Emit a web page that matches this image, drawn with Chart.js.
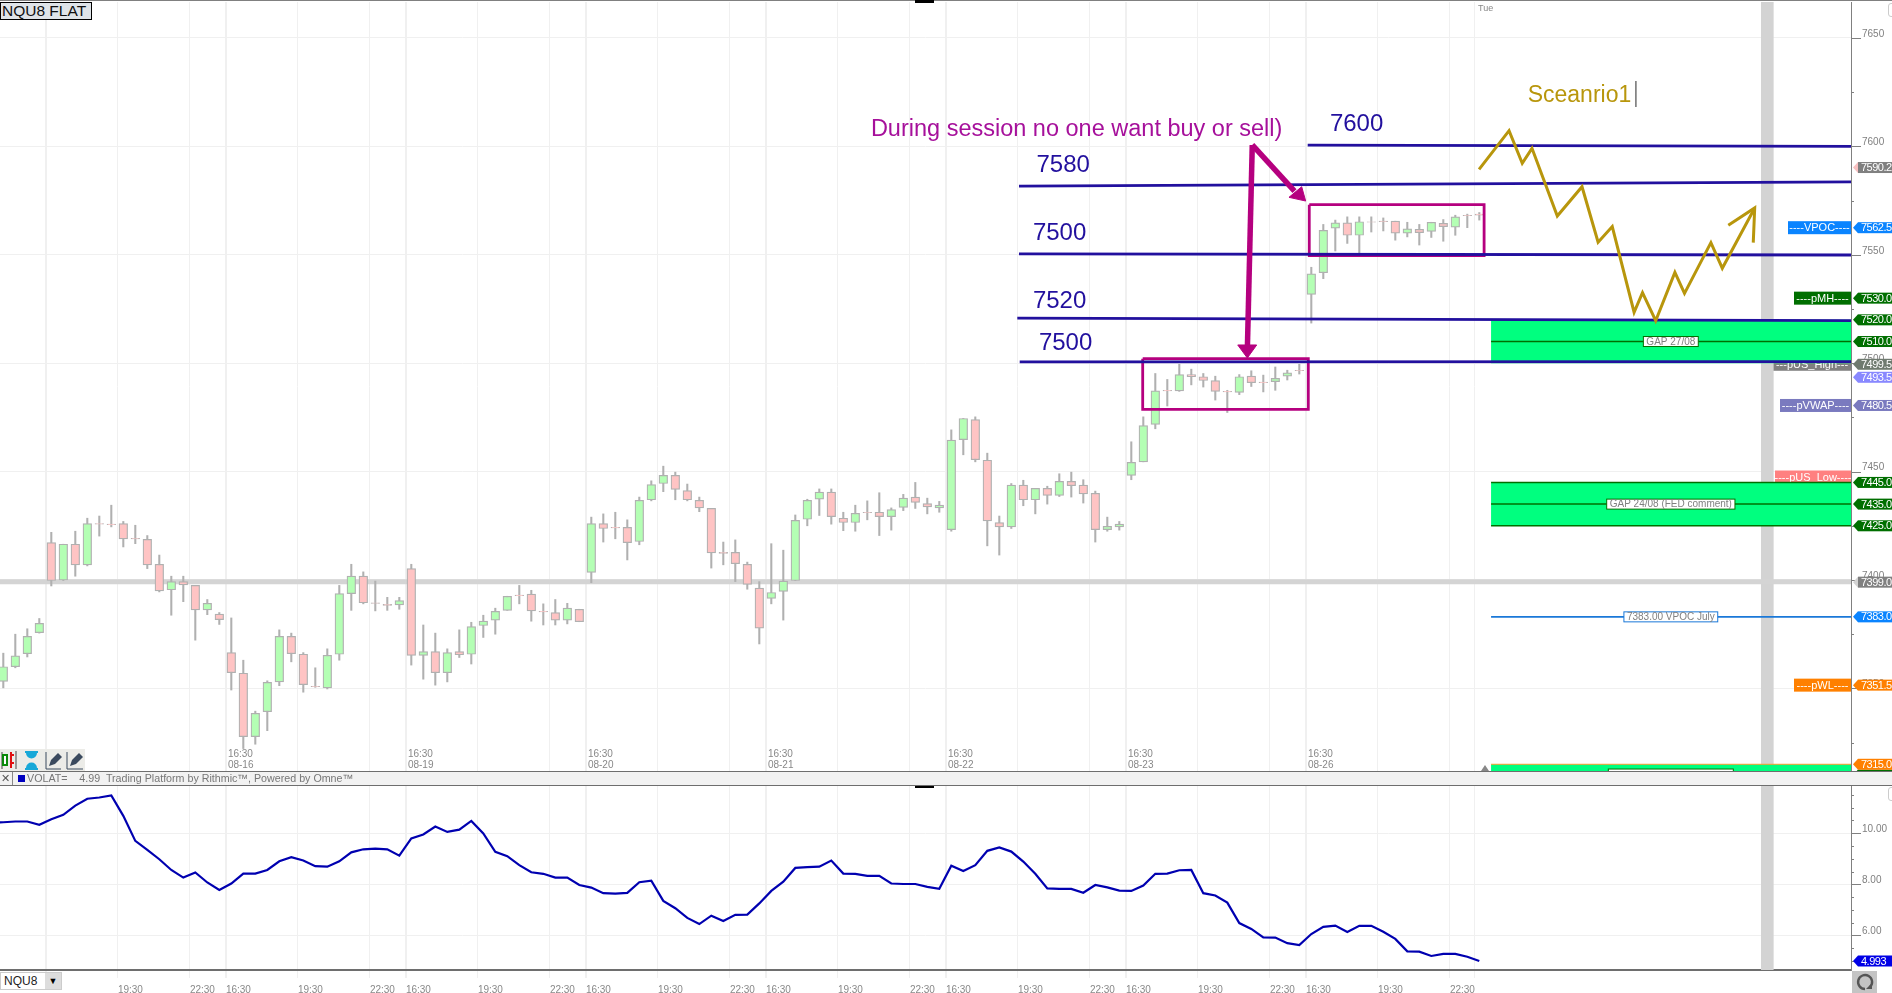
<!DOCTYPE html>
<html lang="en">
<head>
	<meta charset="UTF-8">
	<title>NQU8 FLAT</title>
	<script src="https://cdn.jsdelivr.net/npm/chart.js"></script>
	<style>
		html, body { margin: 0; padding: 0; background: white; overflow: hidden; width: 1892px; height: 993px; font-family: "Liberation Sans", sans-serif; }
		canvas { position: absolute; left: 0; display: block; }
		#priceChart { top: 0; }
		#volatChart { top: 785px; }
		.abs { position: absolute; }
		#topLine { left: 0; top: 0; width: 1892px; height: 1px; background: #808080; }
		#symbolBox { left: 0; top: 2px; width: 89px; height: 16px; border: 1px solid #000; background: #dfe4e8; font-size: 15.5px; line-height: 16px; padding-left: 1px; box-sizing: content-box; color: #111; white-space: nowrap; }
		#tueLabel { left: 1478px; top: 3px; font-size: 9px; color: #888; }
		#legendBar { left: 0; top: 771px; width: 1892px; height: 13px; background: #f2f2f2; border-top: 1px solid #6e6e6e; border-bottom: 1px solid #6e6e6e; font-size: 10.7px; line-height: 13px; color: #777; white-space: pre; }
		#legendBar .x { position: absolute; left: 1px; top: 0; color: #555; }
		#legendBar .div { position: absolute; left: 12px; top: 0; width: 1px; height: 13px; background: #888; }
		#legendBar .sq { position: absolute; left: 18px; top: 3px; width: 7px; height: 7px; background: #0000c0; }
		#legendBar .txt { position: absolute; left: 27px; top: 0; }
		#toolbar { left: 0; top: 749px; width: 85px; height: 22px; background: #ecece8; }
		#dropdown { left: 0; top: 972px; width: 62px; height: 18px; background: #fff; border: 1px solid #ccc; box-sizing: border-box; font-size: 12px; line-height: 16px; color: #222; padding-left: 3px; }
		#dropdown .btn { position: absolute; left: 44px; top: 0; width: 16px; height: 16px; background: #ddd; font-size: 9px; line-height: 16px; text-align: center; color: #000; padding: 0; }
		#refresh { left: 1852px; top: 971px; width: 25px; height: 22px; background: #c4c4c4; }
		.mark { width: 19px; height: 3px; background: #000; left: 915px; }
		.corner { width: 8px; height: 12px; border: 1px solid #ccc; border-radius: 3px; left: 1888px; background: #fff; }
		#triangle { left: 1481px; top: 765px; width: 0; height: 0; border-left: 4px solid transparent; border-right: 4px solid transparent; border-bottom: 6px solid #888; }
	</style>
</head>
<body>
	<canvas id="priceChart" width="1892" height="772"></canvas>
	<canvas id="volatChart" width="1892" height="208"></canvas>

	<div class="abs" id="topLine"></div>
	<div class="abs" id="symbolBox">NQU8 FLAT</div>
	<div class="abs" id="tueLabel">Tue</div>
	<div class="abs mark" style="top:0"></div>
	<div class="abs mark" style="top:785px"></div>
	<div class="abs corner" style="top:3px"></div>
	<div class="abs corner" style="top:787px"></div>
	<div class="abs" id="triangle"></div>
	<div class="abs" id="toolbar">
		<svg width="85" height="22" viewBox="0 0 85 22">
			<path d="M2 3v17M16 2v18" stroke="#444" stroke-width="1" fill="none"/>
			<rect x="3" y="6" width="4" height="10" fill="#fff" stroke="#0a8a0a" stroke-width="2"/>
			<path d="M11 3v16M14 6h-3M14 14h-3" stroke="#e01010" stroke-width="2" fill="none"/>
			<path d="M25 3h13M25 20h13M27 4c0 6 9 6 9 0zM27 19c0-6 9-6 9 0z" stroke="#18a8d8" stroke-width="2" fill="#18a8d8"/>
			<path d="M46 20v-17M46 20h15" stroke="#3b4a5e" stroke-width="1" fill="none"/>
			<path d="M49 17l2-6 7-7 4 4-7 7z" fill="#3b4a5e"/>
			<path d="M67 20v-17M67 20h16" stroke="#3b4a5e" stroke-width="1" fill="none"/>
			<path d="M70 17l2-6 7-7 4 4-7 7z" fill="#3b4a5e"/>
		</svg>
	</div>
	<div class="abs" id="legendBar"><span class="x">✕</span><span class="div"></span><span class="sq"></span><span class="txt">VOLAT=    4.99  Trading Platform by Rithmic™, Powered by Omne™</span></div>
	<div class="abs" id="dropdown">NQU8<span class="btn">▼</span></div>
	<div class="abs" id="refresh">
		<svg width="25" height="22" viewBox="0 0 25 22">
			<path d="M18 16a7 7 0 1 0-5 2" stroke="#555" stroke-width="2.4" fill="none"/>
			<path d="M20 12v6h-6z" fill="#555"/>
		</svg>
	</div>

	<script>
		// 30 minute bars, one session = 15 bars
		const opens = [
			7353.25,7360,7366,7375.75,7417.25,7400,7416.5,7407,7426,7425.75,
			7426,7419.25,7418.75,7407.25,7395.5,7399.25,7397.5,7386.25,7384.25,7366.5,
			7357,7327.75,7339.25,7353,7374,7365.75,7351,7350.25,7365.75,7393.75,
			7401.75,7389.5,7388.75,7388.5,7405.25,7365.25,7367,7357.25,7367,7365.75,
			7379,7381.5,7386,7393,7393.5,7385.5,7385,7381.5,7386.5,7403.5,
			7426,7424.25,7424.25,7417.75,7437,7444.5,7448.25,7441.25,7436.75,7433,
			7412.75,7412.75,7407.25,7396.25,7391.5,7394.75,7399.75,7428,7437.25,7440.5,
			7428.5,7426.5,7431.25,7431.25,7429.25,7433.5,7438.25,7435.25,7433.25,7423.25,
			7464.75,7474,7455.25,7426.5,7424.5,7443.75,7437,7442.25,7439,7445.5,
			7443.75,7440,7423.25,7424.5,7448.25,7454.5,7471.75,7487.5,7487.25,7494.75,
			7493.75,7492,7487,7486.5,7494,7491.25,7491.5,7494,7496.75,7531.75,
			7541.75,7562.25,7564.75,7559,7565.25,7565.5,7565.5,7560,7561.75,7560.75,
			7564.5,7562.75,7568.25,7568.75
		];
		const closes = [
			7360,7365,7374,7380,7399.75,7416.5,7407,7426,7425.75,7425.5,
			7419,7419,7407,7395,7399.25,7397.75,7386.25,7389.25,7381.75,7357.25,
			7327.75,7338.5,7352.75,7374,7366,7351.75,7350.75,7365.25,7393.75,7401.75,
			7389.5,7389.25,7388.25,7390.5,7365.25,7367,7357.25,7366.5,7365.5,7378.5,
			7381,7385.5,7392.5,7392.75,7385.75,7385.25,7381.5,7387,7380.75,7426,
			7423.75,7424,7417.25,7436.75,7444,7448.25,7441.75,7437,7433.25,7412.5,
			7412.25,7407.5,7398,7377.75,7394.25,7399.5,7427.5,7436.75,7440.5,7429.25,
			7426.5,7430.75,7431,7429.25,7432.5,7437.75,7435.75,7433.75,7434.5,7464.5,
			7474.5,7455.5,7427.25,7424.5,7443.75,7437,7442.25,7439,7445.5,7443.5,
			7439.75,7423.25,7424.75,7425.75,7454.25,7471.25,7487.25,7487.25,7494.75,7493.75,
			7492,7487,7486.75,7493.75,7491,7491,7493,7495.5,7496.5,7541.25,
			7561.25,7564.75,7559,7565.25,7565,7565.25,7560,7562,7560.25,7565,
			7563,7567.5,7568,7568.25
		];
		const highs = [
			7366.25,7375,7377.5,7382.25,7422,7416.5,7422.5,7428.5,7429.5,7434.5,
			7427,7425.25,7420.5,7411.5,7401.75,7401.75,7397.5,7391,7385,7382.5,
			7363,7339.5,7353.5,7377,7375.5,7366.5,7359.5,7368.25,7397.5,7407.25,
			7403.75,7399.5,7392,7392,7407.25,7379.25,7375.5,7368.25,7377,7380.5,
			7383.75,7387,7392.5,7397.5,7395.25,7389,7391,7389.25,7386.5,7429,
			7430.5,7431.25,7427.75,7438.25,7445.75,7452.5,7449.75,7444.25,7438.25,7433,
			7417.5,7418.5,7408.25,7399.25,7416.75,7413.75,7430,7437.25,7442,7442,
			7431.25,7434.5,7436.5,7440.25,7433.25,7439.5,7445,7437.75,7436.25,7469.25,
			7474.5,7475.25,7458.5,7429.5,7444.5,7446,7442.25,7443.25,7449,7449.75,
			7446.25,7441,7429,7427,7463.75,7475.25,7495.25,7492.5,7499.5,7497.25,
			7495.25,7494,7487.5,7494.75,7496.5,7494.5,7498.25,7496.75,7499.5,7544.25,
			7564,7566,7567.5,7567.5,7567.5,7567,7565.5,7565,7564,7565,
			7566.25,7568.25,7568.75,7569.5
		];
		const lows = [
			7350.25,7359.5,7364.5,7375.5,7397.25,7399.75,7401.75,7406.5,7420.25,7424.5,
			7415.25,7416.75,7405.25,7394.5,7383.75,7390,7372.25,7384,7379.5,7349.25,
			7322.25,7324.25,7330.5,7351.25,7362.25,7348.25,7350.5,7349.75,7363,7386,
			7389,7385.75,7386,7386.5,7360.75,7354.25,7351.5,7353,7364.25,7361.25,
			7373.5,7375,7386,7389,7381,7379.25,7379.25,7379.75,7380.75,7398.75,
			7417.5,7419,7409.25,7416.25,7436.5,7440.75,7437,7436.5,7431.5,7405.5,
			7407,7399.25,7395.75,7370.5,7389,7381.5,7399.75,7425,7429.75,7425.75,
			7422.75,7422.5,7427.75,7420.5,7423,7432,7433,7430.5,7431.25,7422.5,
			7457.75,7454.5,7415.75,7411.5,7423.75,7434.25,7430.5,7435,7438.5,7438.25,
			7435.5,7417.5,7422.5,7423,7446.25,7454.5,7469.75,7480.25,7487,7490,
			7489,7483,7477.25,7485.5,7489.25,7486.75,7487.5,7492.25,7495,7518.5,
			7539,7551.75,7555.25,7550.75,7560.5,7561,7556.75,7558.25,7554.5,7558,
			7556.25,7559,7562.5,7566
		];
		const volatBefore = 10.42; // the bar just left of the window
		const volat = [
			10.43,10.46,10.46,10.33,10.55,10.72,11.08,11.35,11.40,11.48,
			10.68,9.70,9.35,8.98,8.56,8.26,8.46,8.07,7.78,8.03,
			8.42,8.42,8.56,8.90,9.06,8.93,8.71,8.69,8.90,9.25,
			9.37,9.40,9.37,9.12,9.80,9.95,10.26,10.05,10.14,10.48,
			9.99,9.27,9.10,8.75,8.47,8.41,8.26,8.26,7.97,7.87,
			7.65,7.63,7.66,8.08,8.14,7.35,7.06,6.68,6.44,6.77,
			6.56,6.80,6.81,7.25,7.74,8.10,8.64,8.67,8.69,8.93,
			8.42,8.41,8.33,8.33,8.03,8.01,8.01,7.90,7.82,8.73,
			8.52,8.75,9.31,9.44,9.28,8.89,8.41,7.84,7.82,7.82,
			7.67,7.97,7.88,7.75,7.74,7.95,8.41,8.42,8.55,8.56,
			7.65,7.56,7.28,6.48,6.25,5.92,5.91,5.69,5.62,6.05,
			6.33,6.38,6.13,6.37,6.37,6.14,5.86,5.37,5.36,5.19,
			5.27,5.27,5.16,4.99
		];

		// time axis (positions are bar numbers)
		const tickBars = [9.55,15.55,18.55,24.55,30.55,33.55,39.55,45.55,48.55,54.55,60.55,63.55,69.55,75.55,78.55,84.55,90.55,93.55,99.55,105.55,108.55,114.55,120.55];
		const tickTimes = ['19:30','22:30','16:30','19:30','22:30','16:30','19:30','22:30','16:30','19:30','22:30','16:30','19:30','22:30','16:30','19:30','22:30','16:30','19:30','22:30','16:30','19:30','22:30'];
		const sessionBars = [18.55,33.55,48.55,63.55,78.55,93.55,108.55];
		const sessionDates = ['08-16','08-19','08-20','08-21','08-22','08-23','08-26'];
		const gridOnlyBars = [3.55,122.6];
		const emptyBar = 147;

		const priceTicks = [7325,7350,7375,7400,7425,7450,7475,7500,7525,7550,7575,7600,7625,7650];
		const volatTicks = [5,5.5,6,6.5,7,7.5,8,8.5,9,9.5,10,10.5,11,11.5];

		// hand drawn levels: [bar, price]
		const level7600 = [[108.7,7600.6],[154,7600]];
		const level7580 = [[84.64,7581.7],[154,7583.6]];
		const level7550 = [[84.64,7550.4],[154,7549.9]];
		const level7520 = [[84.5,7520.8],[154,7519.6]];
		const level7500 = [[84.7,7500.6],[154,7500.7]];
		const boxFriday = [[94.95,7502.1],[108.75,7502.1],[108.75,7478.7],[94.95,7478.7],[94.95,7502.1]];
		const boxMonday = [[108.83,7573.1],[123.4,7573.1],[123.4,7549.6],[108.83,7549.6],[108.83,7573.1]];
		const arrowDown = [[104.08,7600.65],[103.67,7506.1]];
		const arrowDownHead = [[102.87,7508.4],[103.67,7502.4],[104.45,7508.4],[102.87,7508.4]];
		const arrowSide = [[104.08,7600.65],[107.6,7579.4]];
		const arrowSideHead = [[107.14,7576.5],[108.53,7574.8],[108.2,7581.4],[107.14,7576.5]];
		const scenarioPath = [[122.98,7589.4],[125.48,7607.25],[126.58,7592.2],[127.39,7599.1],[129.5,7567.9],[131.56,7581.4],[132.9,7555.8],[134.08,7563],[135.9,7523.5],[136.6,7532.5],[137.7,7519.6],[139.3,7541.9],[140.1,7532.2],[142.3,7555.6],[143.25,7543.8],[145.95,7571.6]];
		const scenarioHead = [[143.75,7563.6],[145.95,7571.6],[145.83,7555.6]];
		const caretLine = [[136.05,7630.2],[136.05,7618.2]];
		const gapStartBar = 123.98;
		const gapTops = [7520,7445,7315];
		const gapBottoms = [7500,7425,7305];
		const gapMids = [7510,7435];
		const vpocJuly = 7383;
		const priorClose = 7399.2;

		// text on the chart
		const noteTexts = ['During session no one want buy or sell)','7600','7580','7500','7520','7500','Sceanrio1'];
		const noteBars = [72.3,110.55,86.1,85.8,85.8,86.3,127.03];
		const notePrices = [7609,7611.4,7592.3,7561,7529.6,7510.4,7624.6];
		const boxTexts = ['GAP 27/08','GAP 24/08 (FED comment)','7383.00 VPOC July',''];
		const boxBar = 138.96;
		const boxPrices = [7510,7435,7383,7310.5];

		// labels to the left of the price axis
		const sideTexts = ['----VPOC----','----pMH----','---pUS_High---','----pVWAP----','----pUS_Low----','----pWL----'];
		const sidePrices = [7562.5,7530,7499.5,7480.5,7447.5,7351.5];
		const sideWidths = [63,57,78,71,76,57];
		const sideFills = ['#0a84ff','#006f00','#808080','#7a7abf','#ff8080','#ff8000'];

		// price tags on the axis
		const tagPrices = [7590.25,7562.5,7530,7520,7510,7499.5,7493.5,7480.5,7445,7435,7425,7399,7383,7351.5,7310,7315];
		const tagTexts = ['7590.25','7562.50','7530.00','7520.00','7510.00','7499.50','7493.50','7480.50','7445.00','7435.00','7425.00','7399.00','7383.00','7351.50','7310.00','7315.00'];
		const tagFills = ['#808080','#0a84ff','#006f00','#006f00','#006f00','#6f7a6f','#8888ff','#7a7abf','#006f00','#006f00','#006f00','#808080','#0a84ff','#ff8000','#006f00','#ff8000'];
		const tagArrows = ['#f8c0c0','#0a84ff','#006f00','#006f00','#006f00','#6f7a6f','#8888ff','#7a7abf','#006f00','#006f00','#006f00','#d3d3d3','#0a84ff','#ff8000','#006f00','#ff8000'];
		const volatTag = 4.993;

		const FONT = '"Liberation Sans", Arial, sans-serif';
		const NAVY = '#22109e';
		const MAGENTA = '#b5007f';
		const GOLD = '#b8960c';
		const GRID = '#f0f0f0';
		const PRICE_RANGE = [7311.9, 7666.6];
		const VOLAT_RANGE = [4.64, 11.89];
		const BAR_RANGE = [-0.275, 153.975];

		Chart.defaults.font.family = FONT;
		Chart.defaults.animation = false;

		const toXY = pts => pts.map(p => ({ x: p[0], y: p[1] }));
		const lineSet = (pts, color, width, order, extra) => Object.assign({
			type: 'line', data: toXY(pts), borderColor: color, borderWidth: width,
			pointRadius: 0, tension: 0, fill: false, order: order, borderJoinStyle: 'miter'
		}, extra || {});

		// axis labels must not push the plot area away from the pane edges
		const noAxisPadding = s => { s.paddingTop = s.paddingBottom = s.paddingLeft = s.paddingRight = 0; };

		function makeOverlay(cfg) {
			return {
				id: 'overlay',
				beforeDatasetsDraw(chart) {
					const ctx = chart.ctx, y = chart.scales.y, right = chart.chartArea.right;
					ctx.save();
					ctx.font = '11px ' + FONT;
					ctx.textAlign = 'center';
					ctx.textBaseline = 'middle';
					(cfg.sideTexts || []).forEach((t, i) => {
						const py = y.getPixelForValue(cfg.sidePrices[i]), w = cfg.sideWidths[i];
						ctx.fillStyle = cfg.sideFills[i];
						ctx.fillRect(right - w, py - 6.5, w, 13);
						ctx.fillStyle = '#fff';
						ctx.fillText(t, right - w / 2, py + 0.5);
					});
					ctx.restore();
				},
				afterDatasetsDraw(chart) {
					const ctx = chart.ctx, x = chart.scales.x, y = chart.scales.y, area = chart.chartArea;
					ctx.save();
					ctx.beginPath();
					ctx.rect(area.left, area.top, area.right - area.left, area.bottom - area.top);
					ctx.clip();
					ctx.textBaseline = 'middle';
					(cfg.noteTexts || []).forEach((t, i) => {
						const big = i === 0 ? 23.5 : (i === 6 ? 23 : 24);
						ctx.font = big + 'px ' + FONT;
						ctx.fillStyle = i === 0 ? '#a6109b' : (i === 6 ? GOLD : NAVY);
						ctx.textAlign = 'left';
						ctx.fillText(t, x.getPixelForValue(cfg.noteBars[i]), y.getPixelForValue(cfg.notePrices[i]) + 2.5);
					});
					ctx.font = '10px ' + FONT;
					ctx.textAlign = 'center';
					(cfg.boxTexts || []).forEach((t, i) => {
						const w = t ? ctx.measureText(t).width + 6 : 125;
						const cx = x.getPixelForValue(cfg.boxBar), cy = y.getPixelForValue(cfg.boxPrices[i]);
						ctx.fillStyle = '#fff';
						ctx.fillRect(cx - w / 2, cy - 5, w, 10);
						ctx.strokeStyle = i === 2 ? '#1a78d8' : '#007000';
						ctx.lineWidth = 1;
						ctx.strokeRect(cx - w / 2, cy - 5, w, 10);
						ctx.fillStyle = '#808080';
						ctx.fillText(t, cx, cy + 0.5);
					});
					ctx.restore();
				},
				afterDraw(chart) {
					const ctx = chart.ctx, y = chart.scales.y, right = chart.chartArea.right;
					ctx.save();
					ctx.strokeStyle = '#808080';
					ctx.lineWidth = 1;
					y.ticks.forEach(t => {
						const py = Math.round(y.getPixelForValue(t.value)) + 0.5;
						ctx.beginPath();
						ctx.moveTo(right, py);
						ctx.lineTo(right + (cfg.isMajor(t.value) ? 10 : 3), py);
						ctx.stroke();
					});
					ctx.font = '11px ' + FONT;
					ctx.letterSpacing = '-0.5px';
					ctx.textAlign = 'left';
					ctx.textBaseline = 'middle';
					cfg.tagPrices.forEach((p, i) => {
						const py = y.getPixelForValue(p);
						ctx.fillStyle = cfg.tagArrows[i];
						ctx.beginPath();
						ctx.moveTo(right + 2, py);
						ctx.lineTo(right + 7, py - 5.5);
						ctx.lineTo(right + 7, py + 5.5);
						ctx.fill();
						ctx.fillStyle = cfg.tagFills[i];
						ctx.fillRect(right + 7, py - 5.5, 41, 11);
						ctx.fillStyle = '#fff';
						ctx.fillText(cfg.tagTexts[i], right + 10, py + 0.5);
					});
					ctx.restore();
				}
			};
		}

		function timeAxis(extra) {
			return Object.assign({
				type: 'linear', min: BAR_RANGE[0], max: BAR_RANGE[1], offset: false,
				grid: {
					offset: false,
					color: GRID,
					lineWidth: c => sessionBars.includes(c.tick && c.tick.value) || gridOnlyBars[0] === (c.tick && c.tick.value) ? 2 : 1
				}
			}, extra);
		}
		const allGridBars = gridOnlyBars.slice(0, 1).concat(tickBars, gridOnlyBars.slice(1));

		const isPriceMajor = v => v % 50 === 0;
		const isVolatMajor = v => v === 6 || v === 8 || v === 10;

		const candleColors = opens.map((o, i) => closes[i] >= o ? '#b4ffb4' : '#ffc4c4');

		new Chart(document.getElementById('priceChart'), {
			type: 'bar',
			data: {
				datasets: [
					{ data: [{ x: emptyBar, y: PRICE_RANGE }], backgroundColor: '#d3d3d3', barThickness: 12, grouped: false, order: 30 },
					lineSet([[BAR_RANGE[0], priorClose], [BAR_RANGE[1], priorClose]], '#d4d4d4', 5, 29),
					{ data: highs.map((h, i) => ({ x: i, y: [lows[i], h] })), backgroundColor: '#b0b0b0', barThickness: 1.4, grouped: false, order: 21 },
					{ data: opens.map((o, i) => ({ x: i, y: [o, closes[i]] })), backgroundColor: candleColors, borderColor: '#b0b0b0', borderWidth: 1.2, borderSkipped: false, barThickness: 8.6, grouped: false, order: 20 },
					lineSet([[gapStartBar, gapTops[0]], [BAR_RANGE[1], gapTops[0]]], '#00ff7f', 0, 15, { fill: { value: gapBottoms[0] }, backgroundColor: '#00ff7f' }),
					lineSet([[gapStartBar, gapTops[1]], [BAR_RANGE[1], gapTops[1]]], '#007000', 1.5, 15, { fill: { value: gapBottoms[1] }, backgroundColor: '#00ff7f' }),
					lineSet([[gapStartBar, gapBottoms[1]], [BAR_RANGE[1], gapBottoms[1]]], '#007000', 1.5, 14),
					lineSet([[gapStartBar, gapTops[2]], [BAR_RANGE[1], gapTops[2]]], '#ff9a30', 1, 15, { fill: { value: gapBottoms[2] }, backgroundColor: '#00ff7f' }),
					lineSet([[gapStartBar, gapMids[0]], [BAR_RANGE[1], gapMids[0]]], '#007000', 1.5, 14),
					lineSet([[gapStartBar, gapMids[1]], [BAR_RANGE[1], gapMids[1]]], '#007000', 1.5, 14),
					lineSet([[gapStartBar, vpocJuly], [BAR_RANGE[1], vpocJuly]], '#1a78d8', 1.8, 14),
					lineSet(boxFriday, MAGENTA, 2.8, 9),
					lineSet(boxMonday, MAGENTA, 2.8, 9),
					lineSet(level7600, NAVY, 2.8, 8),
					lineSet(level7580, NAVY, 2.8, 8),
					lineSet(level7550, NAVY, 2.8, 8),
					lineSet(level7520, NAVY, 2.8, 8),
					lineSet(level7500, NAVY, 2.8, 8),
					lineSet(arrowDown, MAGENTA, 5.5, 6),
					lineSet(arrowSide, MAGENTA, 5.5, 6),
					lineSet(arrowDownHead, MAGENTA, 1, 6, { fill: 'shape', backgroundColor: MAGENTA }),
					lineSet(arrowSideHead, MAGENTA, 1, 6, { fill: 'shape', backgroundColor: MAGENTA }),
					lineSet(scenarioPath, GOLD, 3, 5),
					lineSet(scenarioHead, GOLD, 3, 5),
					lineSet(caretLine, '#666666', 1.4, 5)
				]
			},
			options: {
				responsive: false,
				layout: { padding: { top: 2, bottom: 1 } },
				plugins: { legend: { display: false }, tooltip: { enabled: false } },
				scales: {
					x: timeAxis({
						border: { display: false },
						afterBuildTicks: s => { s.ticks = allGridBars.map(v => ({ value: v })); },
						afterFit: s => { s.height = 0; noAxisPadding(s); },
						ticks: {
							// mirror keeps the labels from being clipped to the zero height axis box
							autoSkip: false, maxRotation: 0, minRotation: 0, align: 'start', mirror: true, padding: 11, labelOffset: 2,
							color: '#888888', font: { size: 10, lineHeight: 1.1 },
							callback: v => {
								const k = sessionBars.indexOf(v);
								return k < 0 ? '' : ['16:30', sessionDates[k]];
							}
						}
					}),
					y: {
						position: 'right', min: PRICE_RANGE[0], max: PRICE_RANGE[1],
						border: { color: '#808080', width: 1 },
						afterBuildTicks: s => { s.ticks = priceTicks.map(v => ({ value: v })); },
						afterFit: s => { s.width = 41; noAxisPadding(s); },
						grid: { drawTicks: false, color: c => c.tick && isPriceMajor(c.tick.value) ? GRID : 'transparent' },
						ticks: {
							padding: 11, labelOffset: -4, color: '#808080', font: { size: 10 }, autoSkip: false,
							callback: v => isPriceMajor(v) ? String(v) : ''
						}
					}
				}
			},
			plugins: [makeOverlay({
				isMajor: isPriceMajor,
				sideTexts, sidePrices, sideWidths, sideFills,
				noteTexts, noteBars, notePrices,
				boxTexts, boxBar, boxPrices,
				tagPrices, tagTexts, tagFills, tagArrows
			})]
		});

		new Chart(document.getElementById('volatChart'), {
			type: 'bar',
			data: {
				datasets: [
					{ data: [{ x: emptyBar, y: VOLAT_RANGE }], backgroundColor: '#d3d3d3', barThickness: 12, grouped: false, order: 30 },
					lineSet([[-1, volatBefore]].concat(volat.map((v, i) => [i, v])), '#0000b0', 2.2, 1)
				]
			},
			options: {
				responsive: false,
				plugins: { legend: { display: false }, tooltip: { enabled: false } },
				scales: {
					x: timeAxis({
						border: { color: '#6e6e6e', width: 2 },
						afterBuildTicks: s => { s.ticks = allGridBars.map(v => ({ value: v })); },
						afterFit: s => { s.height = 23; noAxisPadding(s); },
						ticks: {
							autoSkip: false, maxRotation: 0, minRotation: 0, align: 'start', padding: 6,
							color: '#888888', font: { size: 10 },
							callback: v => {
								const k = tickBars.indexOf(v);
								return k < 0 ? '' : tickTimes[k];
							}
						}
					}),
					y: {
						position: 'right', min: VOLAT_RANGE[0], max: VOLAT_RANGE[1],
						border: { color: '#808080', width: 1 },
						afterBuildTicks: s => { s.ticks = volatTicks.map(v => ({ value: v })); },
						afterFit: s => { s.width = 41; noAxisPadding(s); },
						grid: { drawTicks: false, color: c => c.tick && isVolatMajor(c.tick.value) ? GRID : 'transparent' },
						ticks: {
							padding: 11, labelOffset: -4, color: '#808080', font: { size: 10 }, autoSkip: false,
							callback: v => isVolatMajor(v) ? v.toFixed(2) : ''
						}
					}
				}
			},
			plugins: [makeOverlay({
				isMajor: isVolatMajor,
				tagPrices: [volatTag], tagTexts: ['4.993'], tagFills: ['#0000e6'], tagArrows: ['#0000e6']
			})]
		});
	</script>
</body>
</html>
